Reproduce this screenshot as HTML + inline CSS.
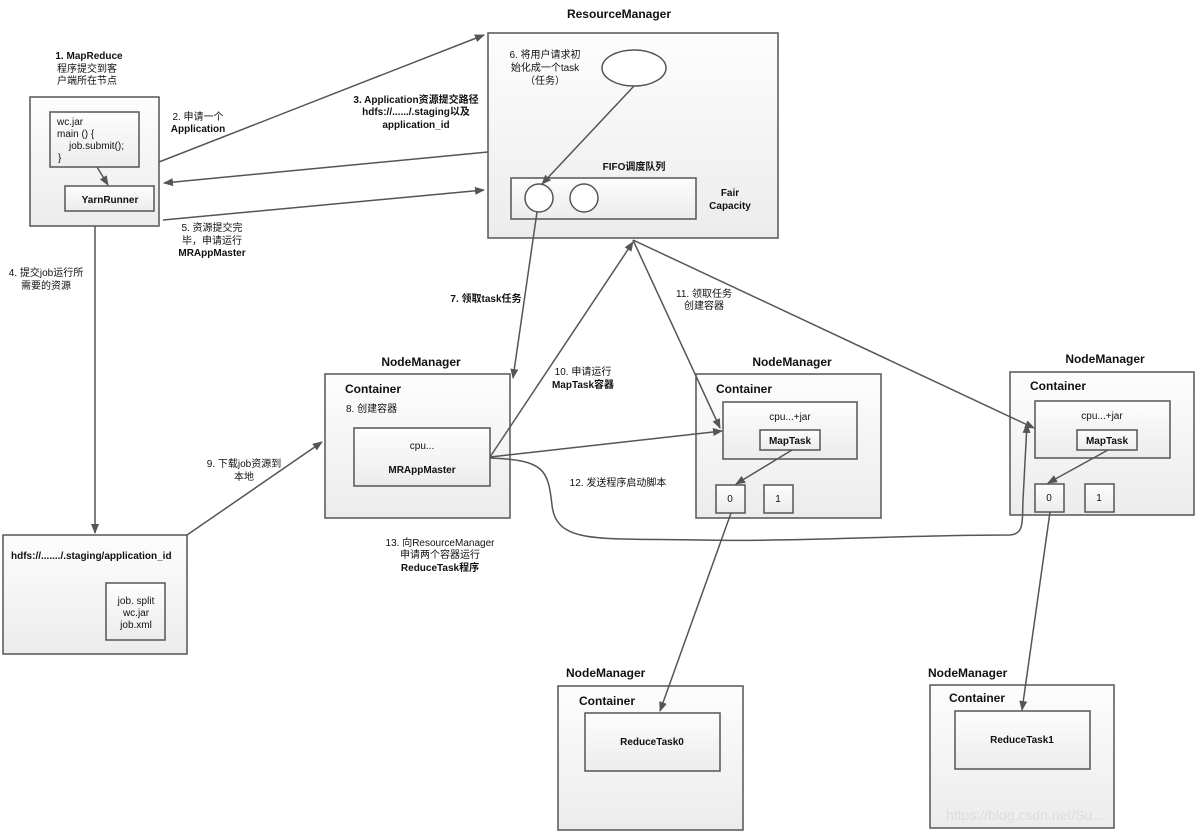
<!DOCTYPE html>
<html><head><meta charset="utf-8"><style>
html,body{margin:0;padding:0;background:#fff;}
svg{display:block;}
text{font-family:"Liberation Sans","Noto Sans CJK SC",sans-serif;font-size:10px;fill:#111;}
.b{font-weight:bold;}
.t{font-size:12px;font-weight:bold;}
</style></head><body>
<svg width="1197" height="832" viewBox="0 0 1197 832" xmlns="http://www.w3.org/2000/svg">
<defs>
<linearGradient id="g" x1="0" y1="0" x2="0" y2="1"><stop offset="0" stop-color="#fdfdfd"/><stop offset="1" stop-color="#ececec"/></linearGradient>
<marker id="a" markerWidth="10" markerHeight="8" refX="9" refY="4" orient="auto" markerUnits="userSpaceOnUse"><path d="M0,0 L10,4 L0,8 z" fill="#555"/></marker>
</defs>
<g stroke="#555" stroke-width="1.5" fill="url(#g)">
<rect x="30" y="97" width="129" height="129"/>
<rect x="50" y="112" width="89" height="55"/>
<rect x="65" y="186" width="89" height="25"/>
<rect x="488" y="33" width="290" height="205"/>
<rect x="511" y="178" width="185" height="41"/>
<rect x="325" y="374" width="185" height="144"/>
<rect x="354" y="428" width="136" height="58"/>
<rect x="696" y="374" width="185" height="144"/>
<rect x="723" y="402" width="134" height="57"/>
<rect x="760" y="430" width="60" height="20"/>
<rect x="716" y="485" width="29" height="28"/>
<rect x="764" y="485" width="29" height="28"/>
<rect x="1010" y="372" width="184" height="143"/>
<rect x="1035" y="401" width="135" height="57"/>
<rect x="1077" y="430" width="60" height="20"/>
<rect x="1035" y="484" width="29" height="28"/>
<rect x="1085" y="484" width="29" height="28"/>
<rect x="3" y="535" width="184" height="119"/>
<rect x="106" y="583" width="59" height="57"/>
<rect x="558" y="686" width="185" height="144"/>
<rect x="585" y="713" width="135" height="58"/>
<rect x="930" y="685" width="184" height="143"/>
<rect x="955" y="711" width="135" height="58"/>
</g>
<g stroke="#555" stroke-width="1.5" fill="#fff">
<ellipse cx="634" cy="68" rx="32" ry="18"/>
<circle cx="539" cy="198" r="14"/>
<circle cx="584" cy="198" r="14"/>
</g>
<g stroke="#555" stroke-width="1.5" fill="none" marker-end="url(#a)">
<line x1="159" y1="162" x2="484" y2="35"/>
<line x1="488" y1="152" x2="164" y2="183"/>
<line x1="163" y1="220" x2="484" y2="190"/>
<line x1="95" y1="226" x2="95" y2="533"/>
<line x1="187" y1="535" x2="322" y2="442"/>
<line x1="97" y1="167" x2="108" y2="185"/>
<line x1="634" y1="86" x2="542" y2="184"/>
<line x1="537" y1="212" x2="513" y2="378"/>
<line x1="490" y1="457" x2="633" y2="242"/>
<line x1="633" y1="240" x2="720" y2="428"/>
<line x1="633" y1="240" x2="1034" y2="428"/>
<line x1="490" y1="457" x2="722" y2="431"/>
<line x1="792" y1="450" x2="736" y2="484"/>
<line x1="1108" y1="450" x2="1048" y2="483"/>
<line x1="731" y1="513" x2="660" y2="711"/>
<line x1="1050" y1="512" x2="1022" y2="710"/>
<path d="M490,458 C545,460 548,470 552,505 C556,545 600,538 700,540 C800,542 900,535 1010,535 C1025,534 1022,520 1023,500 L1027,424"/>
</g>
<g text-anchor="middle">
<text x="619" y="18" class="t">ResourceManager</text>
<text x="421" y="366" class="t">NodeManager</text>
<text x="792" y="366" class="t">NodeManager</text>
<text x="1105" y="363" class="t">NodeManager</text>
<text x="89" y="59" class="b">1. MapReduce</text>
<text x="87" y="72">程序提交到客</text>
<text x="87" y="84">户端所在节点</text>
<text x="110" y="203" class="b">YarnRunner</text>
<text x="198" y="120">2. 申请一个</text>
<text x="198" y="132" class="b">Application</text>
<text x="416" y="103" class="b">3. Application资源提交路径</text>
<text x="416" y="115" class="b">hdfs://....../.staging以及</text>
<text x="416" y="128" class="b">application_id</text>
<text x="212" y="231">5. 资源提交完</text>
<text x="212" y="244">毕，申请运行</text>
<text x="212" y="256" class="b">MRAppMaster</text>
<text x="46" y="276">4. 提交job运行所</text>
<text x="46" y="289">需要的资源</text>
<text x="545" y="58">6. 将用户请求初</text>
<text x="545" y="71">始化成一个task</text>
<text x="545" y="84">（任务）</text>
<text x="634" y="170" class="b">FIFO调度队列</text>
<text x="730" y="196" class="b">Fair</text>
<text x="730" y="209" class="b">Capacity</text>
<text x="486" y="302" class="b">7. 领取task任务</text>
<text x="704" y="297">11. 领取任务</text>
<text x="704" y="309">创建容器</text>
<text x="583" y="375">10. 申请运行</text>
<text x="583" y="388" class="b">MapTask容器</text>
<text x="422" y="449">cpu...</text>
<text x="422" y="473" class="b">MRAppMaster</text>
<text x="790" y="420">cpu...+jar</text>
<text x="790" y="444" class="b">MapTask</text>
<text x="730" y="502">0</text>
<text x="778" y="502">1</text>
<text x="1102" y="419">cpu...+jar</text>
<text x="1107" y="444" class="b">MapTask</text>
<text x="1049" y="501">0</text>
<text x="1099" y="501">1</text>
<text x="618" y="486">12. 发送程序启动脚本</text>
<text x="244" y="467">9. 下载job资源到</text>
<text x="244" y="480">本地</text>
<text x="440" y="546">13. 向ResourceManager</text>
<text x="440" y="558">申请两个容器运行</text>
<text x="440" y="571" class="b">ReduceTask程序</text>
<text x="136" y="604">job. split</text>
<text x="136" y="616">wc.jar</text>
<text x="136" y="628">job.xml</text>
<text x="652" y="745" class="b">ReduceTask0</text>
<text x="1022" y="743" class="b">ReduceTask1</text>
</g>
<text x="345" y="393" class="t">Container</text>
<text x="716" y="393" class="t">Container</text>
<text x="1030" y="390" class="t">Container</text>
<text x="579" y="705" class="t">Container</text>
<text x="949" y="702" class="t">Container</text>
<text x="566" y="677" class="t">NodeManager</text>
<text x="928" y="677" class="t">NodeManager</text>
<text x="346" y="412">8. 创建容器</text>
<text x="57" y="125">wc.jar</text>
<text x="57" y="137">main () {</text>
<text x="69" y="149">job.submit();</text>
<text x="58" y="161">}</text>
<text x="11" y="559" class="b">hdfs://......./.staging/application_id</text>
<text x="946" y="820" style="fill:#ddd;font-size:14px">https://blog.csdn.net/Su...</text>
</svg>
</body></html>
